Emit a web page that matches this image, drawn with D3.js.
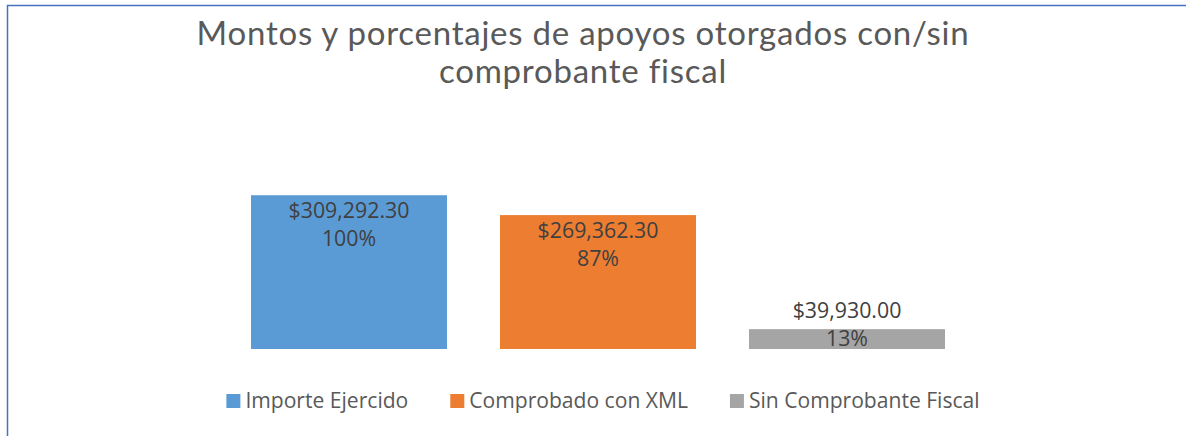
<!DOCTYPE html>
<html><head><meta charset="utf-8">
<script src="https://cdn.jsdelivr.net/npm/d3@7"></script>
<style>body{margin:0;background:#fff}svg{display:block}</style>
</head><body>
<svg id="c" width="1186" height="436"></svg>
<script>
const titleLines = ["Montos y porcentajes de apoyos otorgados con/sin", "comprobante fiscal"];
const series = ["Importe Ejercido", "Comprobado con XML", "Sin Comprobante Fiscal"];
const values = [309292.30, 269362.30, 39930.00];
const percents = ["100%", "87%", "13%"];
const colors = ["#5B9BD5", "#ED7D31", "#A5A5A5"];

const W = 1186, H = 436;
const FONT = "'Open Sans', 'Noto Sans', sans-serif";
const TFONT = "Lato, 'Open Sans', sans-serif";
const svg = d3.select("#c");

function measure(str, size, fam) {
  const t = svg.append("text").attr("font-family", fam).attr("font-size", size).text(str);
  const w = t.node().getComputedTextLength();
  t.remove();
  return w;
}
// size a font so a reference string spans a given width
const fitSize = (str, target, base) => base * target / measure(str, base, FONT);

const titleSize = 33;
const titleSpacing = (772 - measure(titleLines[0], titleSize, TFONT)) / (titleLines[0].length - 1);
const labelSize = fitSize("$309,292.30", 121, 18);
const legendSize = fitSize(series[0], 163, 18);

// frame
svg.append("rect").attr("x", 7.5).attr("y", 5.5).attr("width", W + 10).attr("height", H + 10)
  .attr("fill", "#fff").attr("stroke", "#4472C4").attr("stroke-width", 1.5);

// title
svg.append("g").selectAll("text").data(titleLines).join("text")
  .attr("x", 583).attr("y", (d, i) => 45 + i * 38)
  .attr("text-anchor", "middle").attr("font-family", TFONT).attr("font-size", titleSize)
  .attr("letter-spacing", titleSpacing)
  .attr("fill", "#595959").text(d => d);

const x = d3.scaleBand().domain(series).range([224.5, 971.5]).paddingInner(0.2129).paddingOuter(0.1064);
const y = d3.scaleLinear().domain([0, 350000]).range([349, 175]);

const g = svg.append("g");
g.selectAll("rect.bar").data(series).join("rect").attr("class", "bar")
  .attr("x", d => x(d)).attr("width", x.bandwidth())
  .attr("y", (d, i) => y(values[i])).attr("height", (d, i) => y(0) - y(values[i]))
  .attr("fill", (d, i) => colors[i]);

const fmt = v => "$" + d3.format(",.2f")(v);
const lab = g.selectAll("g.lab").data(series).join("g").attr("class", "lab");
lab.each(function(d, i) {
  const sel = d3.select(this);
  const cx = x(d) + x.bandwidth() / 2;
  const top = y(values[i]);
  const tall = (y(0) - top) > 50;
  const y1 = tall ? top + 22.5 : top - 11;
  const y2 = tall ? y1 + 28.5 : top + 17;
  sel.append("text").attr("x", cx).attr("y", y1).text(fmt(values[i]));
  sel.append("text").attr("x", cx).attr("y", y2).text(percents[i]);
  sel.selectAll("text").attr("text-anchor", "middle").attr("font-family", FONT)
    .attr("font-size", labelSize).attr("fill", "#404040");
});

// legend
const leg = svg.append("g");
const items = leg.selectAll("g").data(series).join("g");
items.append("rect").attr("width", 14).attr("height", 14).attr("y", -7)
  .attr("fill", (d, i) => colors[i]);
items.append("text").attr("x", 19).attr("y", 7).attr("font-family", FONT).attr("font-size", legendSize)
  .attr("fill", "#595959").text(d => d);
let widths = [];
items.each(function() { widths.push(19 + d3.select(this).select("text").node().getComputedTextLength()); });
const gap = 42;
const total = d3.sum(widths) + gap * (widths.length - 1);
let cur = 603 - total / 2;
items.each(function(d, i) { d3.select(this).attr("transform", `translate(${cur},401)`); cur += widths[i] + gap; });
</script>
</body></html>
